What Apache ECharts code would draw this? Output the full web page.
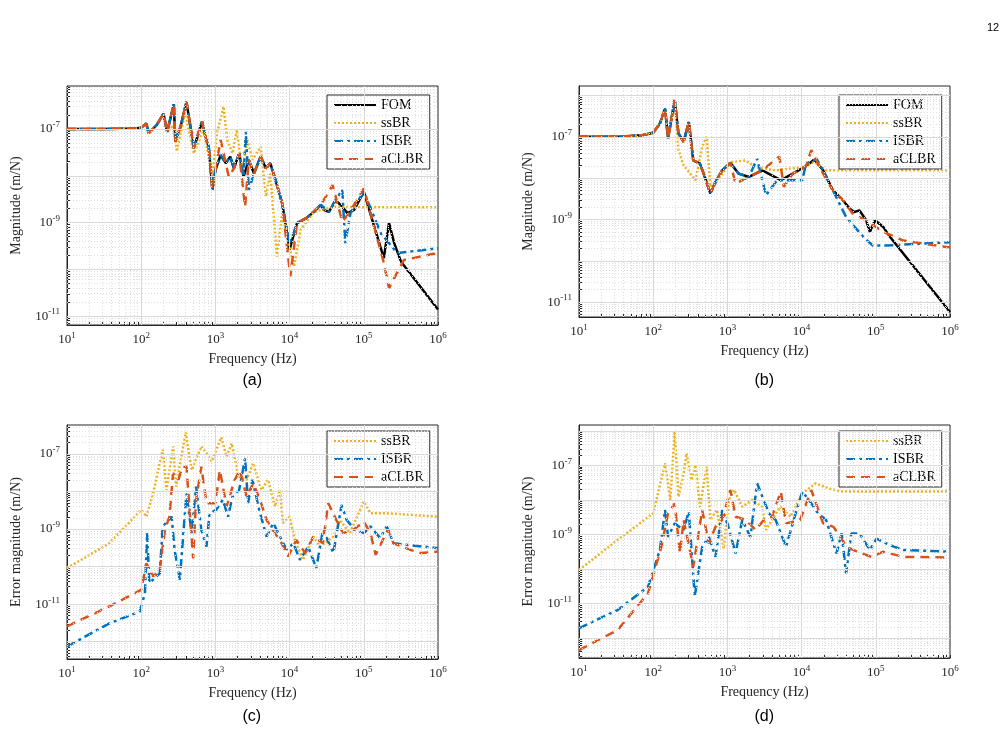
<!DOCTYPE html>
<html><head><meta charset="utf-8">
<script src="https://cdn.jsdelivr.net/npm/echarts@6/dist/echarts.min.js"></script>
<style>html,body{margin:0;padding:0;background:#fff}#c{width:1007px;height:740px}</style>
</head><body><div id="c"></div>
<script>
// data as [log10(frequency Hz), log10(magnitude m/N)]
const lowA = [[1,-7.0],[1.5,-7.0],[1.9,-6.99],[2.0,-6.97],[2.07,-6.88],[2.10,-7.09],[2.21,-6.91],[2.30,-6.67],[2.35,-7.06]];
const fomA = lowA.concat([[2.44,-6.47],[2.46,-7.27],[2.53,-6.95],[2.61,-6.42],[2.71,-7.41],[2.82,-6.84],[2.87,-7.2],[2.91,-7.38],[2.96,-8.30],[3.00,-7.88],[3.07,-7.56],[3.14,-7.73],[3.20,-7.59],[3.25,-7.84],[3.32,-7.52],[3.38,-8.02],[3.45,-7.66],[3.52,-7.95],[3.61,-7.59],[3.68,-7.84],[3.74,-7.73],[3.81,-8.09],[3.90,-8.59],[4.00,-9.58],[4.06,-9.23],[4.10,-9.01],[4.22,-8.91],[4.33,-8.77],[4.42,-8.62],[4.46,-8.73],[4.53,-8.77],[4.62,-8.52],[4.71,-8.66],[4.78,-8.80],[4.87,-8.73],[5.00,-8.34],[5.14,-9.08],[5.27,-9.76],[5.34,-9.01],[5.41,-9.44],[5.50,-9.83],[6.0,-10.86]]);
const ssA = lowA.concat([[2.44,-6.91],[2.48,-7.48],[2.59,-6.67],[2.71,-7.52],[2.84,-7.02],[2.96,-8.02],[3.02,-7.09],[3.11,-6.52],[3.16,-7.23],[3.23,-7.52],[3.29,-7.02],[3.36,-7.95],[3.43,-7.23],[3.50,-7.66],[3.61,-7.38],[3.68,-8.44],[3.74,-7.95],[3.83,-9.73],[3.90,-8.80],[3.97,-9.30],[4.06,-9.94],[4.15,-9.15],[4.33,-8.77],[4.60,-8.66],[4.96,-8.67],[6,-8.67]]);
const isA = lowA.concat([[2.44,-6.47],[2.46,-7.27],[2.53,-6.95],[2.61,-6.42],[2.71,-7.41],[2.82,-6.84],[2.87,-7.2],[2.91,-7.38],[2.96,-8.30],[3.00,-7.88],[3.07,-7.56],[3.14,-7.73],[3.20,-7.59],[3.25,-7.84],[3.32,-7.52],[3.38,-8.02],[3.41,-7.06],[3.45,-8.3],[3.52,-7.95],[3.61,-7.59],[3.68,-7.84],[3.74,-7.73],[3.81,-8.09],[3.90,-8.59],[4.00,-9.45],[4.06,-9.2],[4.10,-9.01],[4.22,-8.91],[4.33,-8.77],[4.42,-8.62],[4.53,-8.77],[4.62,-8.52],[4.71,-8.30],[4.75,-9.44],[4.82,-8.80],[5.0,-8.34],[5.23,-9.23],[5.45,-9.65],[6,-9.55]]);
const acA = lowA.concat([[2.44,-6.47],[2.46,-7.27],[2.53,-6.95],[2.61,-6.42],[2.71,-7.41],[2.82,-6.84],[2.87,-7.2],[2.91,-7.38],[2.96,-8.30],[3.00,-7.88],[3.07,-7.23],[3.18,-8.02],[3.25,-7.84],[3.32,-7.52],[3.40,-8.66],[3.45,-7.66],[3.52,-7.95],[3.61,-7.59],[3.68,-7.84],[3.74,-7.73],[3.81,-8.09],[3.90,-8.59],[4.01,-10.15],[4.10,-9.01],[4.22,-8.91],[4.42,-8.62],[4.58,-8.20],[4.71,-8.98],[4.80,-8.80],[5.0,-8.27],[5.26,-9.80],[5.34,-10.40],[5.54,-9.80],[6,-9.65]]);

const lowB = [[1,-7.0],[1.6,-6.99],[1.85,-6.96],[2.0,-6.9],[2.09,-6.68],[2.16,-6.31],[2.20,-7.04],[2.29,-6.11]];
const fomB = lowB.concat([[2.34,-6.92],[2.41,-7.12],[2.48,-6.64],[2.54,-7.57],[2.63,-7.65],[2.68,-7.89],[2.77,-8.37],[2.84,-8.09],[2.93,-7.81],[3.04,-7.63],[3.15,-7.89],[3.29,-7.97],[3.47,-7.81],[3.72,-8.05],[3.88,-7.89],[4.06,-7.71],[4.17,-7.55],[4.29,-7.81],[4.42,-8.29],[4.56,-8.54],[4.65,-8.74],[4.71,-8.82],[4.78,-8.78],[4.87,-9.02],[4.92,-9.30],[4.99,-9.02],[5.10,-9.18],[5.19,-9.42],[6.0,-11.24]]);
const ssB = lowB.concat([[2.34,-7.32],[2.41,-7.69],[2.57,-8.05],[2.66,-7.24],[2.72,-7.0],[2.77,-8.21],[2.86,-8.05],[3.06,-7.61],[3.24,-7.57],[3.38,-7.73],[3.65,-7.81],[4.01,-7.73],[4.17,-7.61],[4.33,-7.81],[6,-7.81]]);
const isB = lowB.concat([[2.34,-6.92],[2.41,-7.12],[2.48,-6.64],[2.54,-7.57],[2.63,-7.65],[2.68,-7.89],[2.77,-8.37],[2.84,-8.09],[2.93,-7.81],[3.04,-7.63],[3.15,-7.89],[3.29,-7.97],[3.40,-7.53],[3.52,-8.41],[3.67,-8.05],[4.01,-8.05],[4.06,-7.65],[4.20,-7.53],[4.29,-7.81],[4.42,-8.29],[4.60,-8.94],[4.83,-9.42],[4.96,-9.63],[5.14,-9.63],[6,-9.55]]);
const acB = lowB.concat([[2.34,-6.92],[2.41,-7.12],[2.48,-6.64],[2.54,-7.57],[2.63,-7.65],[2.68,-7.89],[2.77,-8.37],[2.84,-8.09],[2.93,-7.81],[3.04,-7.63],[3.11,-8.13],[3.29,-7.97],[3.47,-7.81],[3.70,-7.48],[3.76,-8.21],[3.88,-7.89],[4.06,-7.71],[4.13,-7.32],[4.29,-7.89],[4.42,-8.29],[4.56,-8.54],[4.69,-8.86],[4.87,-9.02],[5.10,-9.30],[5.37,-9.51],[6,-9.68]]);

const ssC = [[1,-10.04],[1.57,-9.38],[2,-8.49],[2.07,-8.67],[2.16,-8.05],[2.29,-6.89],[2.34,-7.96],[2.43,-6.80],[2.47,-7.87],[2.60,-6.43],[2.68,-7.43],[2.81,-6.80],[2.88,-6.98],[2.95,-7.20],[3.08,-6.56],[3.15,-7.07],[3.22,-6.72],[3.31,-7.60],[3.42,-7.69],[3.51,-7.25],[3.62,-7.96],[3.71,-7.69],[3.80,-8.40],[3.87,-7.96],[3.91,-8.84],[4.0,-8.67],[4.07,-9.29],[4.18,-9.82],[4.32,-9.20],[4.41,-9.47],[4.59,-9.20],[4.68,-8.76],[4.81,-9.11],[5.0,-8.27],[5.09,-8.58],[5.31,-8.58],[6,-8.67]];
const isC = [[1,-12.13],[1.57,-11.51],[1.98,-11.20],[2.05,-10.71],[2.08,-9.11],[2.11,-10.44],[2.25,-10.18],[2.29,-8.93],[2.41,-8.67],[2.45,-9.55],[2.52,-10.35],[2.61,-8.05],[2.68,-9.11],[2.74,-7.87],[2.81,-9.02],[2.88,-9.47],[2.92,-8.58],[3.01,-8.49],[3.10,-8.22],[3.17,-8.67],[3.23,-8.14],[3.32,-7.96],[3.40,-7.12],[3.44,-8.31],[3.50,-7.69],[3.59,-8.49],[3.69,-9.20],[3.78,-8.84],[3.87,-9.20],[3.96,-9.55],[4.05,-9.38],[4.14,-9.82],[4.25,-9.47],[4.36,-10.04],[4.45,-9.02],[4.59,-9.64],[4.70,-8.36],[4.77,-8.76],[4.88,-9.02],[5.0,-9.11],[5.09,-8.93],[5.22,-9.24],[5.31,-8.93],[5.40,-9.38],[6,-9.51]];
const acC = [[1,-11.59],[1.57,-11.06],[2,-10.62],[2.07,-9.91],[2.16,-10.26],[2.25,-10.09],[2.32,-9.02],[2.38,-8.67],[2.43,-7.51],[2.50,-7.69],[2.56,-7.34],[2.61,-7.34],[2.70,-9.78],[2.74,-8.22],[2.81,-7.34],[2.88,-8.31],[3.00,-8.31],[3.06,-7.43],[3.15,-8.40],[3.26,-7.69],[3.33,-7.43],[3.42,-8.14],[3.51,-7.78],[3.60,-8.22],[3.69,-8.76],[3.80,-9.11],[3.87,-9.29],[3.98,-9.73],[4.09,-9.29],[4.21,-9.64],[4.32,-9.20],[4.45,-9.38],[4.52,-8.31],[4.63,-8.76],[4.72,-9.11],[4.86,-9.02],[5.0,-8.80],[5.09,-9.11],[5.16,-9.69],[5.32,-9.02],[5.40,-9.38],[5.62,-9.55],[5.77,-9.64],[6,-9.60]];

const ssD = [[1,-10.03],[1.52,-9.16],[2,-8.39],[2.16,-6.94],[2.23,-8.0],[2.29,-6.02],[2.34,-7.91],[2.41,-7.23],[2.45,-6.65],[2.52,-7.43],[2.57,-6.99],[2.63,-8.20],[2.72,-7.04],[2.77,-8.58],[2.86,-8.29],[2.95,-9.41],[3.02,-8.0],[3.09,-7.71],[3.20,-8.20],[3.34,-8.0],[3.47,-8.20],[3.52,-8.87],[3.71,-8.20],[3.85,-8.49],[4.01,-7.81],[4.19,-7.52],[4.37,-7.67],[4.55,-7.76],[4.91,-7.76],[6,-7.76]];
const isD = [[1,-11.72],[1.52,-11.19],[1.93,-10.52],[2.09,-9.45],[2.16,-8.29],[2.20,-9.07],[2.29,-8.68],[2.41,-8.87],[2.48,-8.34],[2.56,-10.81],[2.66,-9.36],[2.75,-9.07],[2.84,-9.65],[2.93,-8.29],[3.00,-8.68],[3.11,-9.55],[3.20,-8.58],[3.31,-9.07],[3.40,-7.52],[3.49,-8.0],[3.56,-8.39],[3.65,-8.58],[3.79,-9.36],[3.92,-8.39],[4.01,-7.76],[4.10,-8.0],[4.22,-8.39],[4.33,-8.58],[4.47,-9.55],[4.54,-8.97],[4.60,-10.13],[4.67,-8.97],[4.78,-8.97],[4.92,-9.45],[5.01,-9.12],[5.19,-9.31],[5.37,-9.45],[6,-9.50]];
const acD = [[1,-12.35],[1.52,-11.77],[1.93,-10.71],[2.11,-9.36],[2.20,-8.39],[2.29,-8.10],[2.36,-9.55],[2.41,-8.58],[2.54,-9.94],[2.66,-8.29],[2.75,-9.26],[2.84,-8.78],[2.93,-8.58],[3.04,-7.71],[3.11,-8.49],[3.25,-8.58],[3.38,-8.87],[3.49,-8.58],[3.60,-8.49],[3.72,-7.76],[3.79,-8.68],[3.98,-8.58],[4.13,-7.71],[4.29,-8.68],[4.43,-8.78],[4.61,-9.36],[4.75,-9.50],[4.94,-9.65],[5.10,-9.50],[5.37,-9.65],[6,-9.67]];

const xTickExps = [1,2,3,4,5,6];
const yTickExps = [-11,-9,-7];

const chart = echarts.init(document.getElementById('c'));
const serif = 'Liberation Serif';
const styles = {
  FOM:  {color:'#000000', type:'solid'},
  ssBR: {color:'#EDB120', type:[2,2]},
  ISBR: {color:'#0072BD', type:[9,4,3,4]},
  aCLBR:{color:'#D95319', type:[9,6]}
};
function minorVals(lo, hi){
  const out=[];
  for(let e=Math.floor(lo); e<=Math.ceil(hi); e++){
    for(let k=2;k<=9;k++){const v=e+Math.log10(k); if(v>lo&&v<hi) out.push(v);}
  }
  return out;
}
function majorVals(lo,hi){const o=[];for(let e=Math.ceil(lo);e<=Math.floor(hi);e++)o.push(e);return o;}
const panels = [
  {box:{left:67,top:86,width:371,height:239}, y:[-11.19,-6.08], name:'Magnitude (m/N)', data:{FOM:fomA,ssBR:ssA,ISBR:isA,aCLBR:acA}, leg:{left:327,top:95}, cap:'(a)'},
  {box:{left:579,top:86,width:371,height:231}, y:[-11.36,-5.77], name:'Magnitude (m/N)', data:{FOM:fomB,ssBR:ssB,ISBR:isB,aCLBR:acB}, leg:{left:839,top:95}, cap:'(b)'},
  {box:{left:67,top:425,width:371,height:234}, y:[-12.46,-6.23], name:'Error magnitude (m/N)', data:{ssBR:ssC,ISBR:isC,aCLBR:acC}, leg:{left:327,top:431}, cap:'(c)'},
  {box:{left:579,top:425,width:371,height:233}, y:[-12.58,-5.83], name:'Error magnitude (m/N)', data:{ssBR:ssD,ISBR:isD,aCLBR:acD}, leg:{left:839,top:431}, cap:'(d)'}
];
const rich = {b:{fontFamily:serif,fontSize:13,color:'#262626'}, s:{fontFamily:serif,fontSize:9,color:'#262626',verticalAlign:'top',padding:[0,0,8,0]}};
const fmt = v => '{b|10}{s|' + Math.round(v) + '}';
const option = {animation:false, backgroundColor:'#fff', grid:[], xAxis:[], yAxis:[], series:[], legend:[], graphic:[]};
panels.forEach((p,i)=>{
  option.grid.push(Object.assign({show:true, borderColor:'#262626', borderWidth:1, backgroundColor:'#fff'}, p.box));
  const xMinor = minorVals(1,6), yMinor=minorVals(p.y[0],p.y[1]);
  option.xAxis.push({type:'value', gridIndex:i, min:1, max:6, interval:1,
    name:'Frequency (Hz)', nameLocation:'middle', nameGap:27, nameTextStyle:{fontFamily:serif,fontSize:14,color:'#262626'},
    axisLine:{lineStyle:{color:'#262626'}}, splitLine:{show:false},
    axisTick:{inside:true, customValues:xTickExps.concat(xMinor), length:3, lineStyle:{color:'#262626'}},
    axisLabel:{customValues:xTickExps, formatter:fmt, rich:rich, margin:6}});
  option.yAxis.push({type:'value', gridIndex:i, min:p.y[0], max:p.y[1],
    name:p.name, nameLocation:'middle', nameGap:44, nameTextStyle:{fontFamily:serif,fontSize:14,color:'#262626'},
    axisLine:{lineStyle:{color:'#262626'}}, splitLine:{show:false},
    axisTick:{inside:true, customValues:majorVals(p.y[0],p.y[1]).concat(yMinor), length:3, lineStyle:{color:'#262626'}},
    axisLabel:{customValues:yTickExps, formatter:fmt, rich:rich, margin:7}});
  const ml = [];
  majorVals(1,6).forEach(v=>{ if(v>1&&v<6) ml.push({xAxis:v, lineStyle:{color:'#d9d9d9',type:'solid',width:1}}); });
  xMinor.forEach(v=>ml.push({xAxis:v, lineStyle:{color:'#dedede',type:[1,2],width:1}}));
  majorVals(p.y[0],p.y[1]).forEach(v=>ml.push({yAxis:v, lineStyle:{color:'#d9d9d9',type:'solid',width:1}}));
  yMinor.forEach(v=>ml.push({yAxis:v, lineStyle:{color:'#dedede',type:[1,2],width:1}}));
  option.series.push({type:'line', xAxisIndex:i, yAxisIndex:i, data:[], silent:true, z:1,
    markLine:{silent:true, symbol:'none', label:{show:false}, animation:false, data:ml}});
  const names = Object.keys(p.data);
  names.forEach(n=>{
    option.series.push({type:'line', name:n, xAxisIndex:i, yAxisIndex:i, data:p.data[n], showSymbol:false, symbol:'none', z:3,
      lineStyle:{color:styles[n].color, type:styles[n].type, width:2.5}, itemStyle:{color:styles[n].color}});
  });
  option.legend.push({left:p.leg.left, top:p.leg.top, orient:'vertical', data:names, itemWidth:42, itemHeight:12, itemGap:4,
    backgroundColor:'#fff', borderColor:'#262626', borderWidth:1, padding:[3,6,3,6], selectedMode:false,
    itemStyle:{opacity:0, borderWidth:0},
    textStyle:{fontFamily:serif, fontSize:14, color:'#000'}});
  option.graphic.push({type:'text', left:p.box.left+p.box.width/2-10, top:373+(i>=2?336:0),
    style:{text:p.cap, font:'16px "Liberation Sans"', fill:'#000'}});
});
option.graphic.push({type:'text', left:987, top:22, style:{text:'12', font:'11px "Liberation Sans"', fill:'#000'}});
chart.setOption(option);
</script></body></html>
